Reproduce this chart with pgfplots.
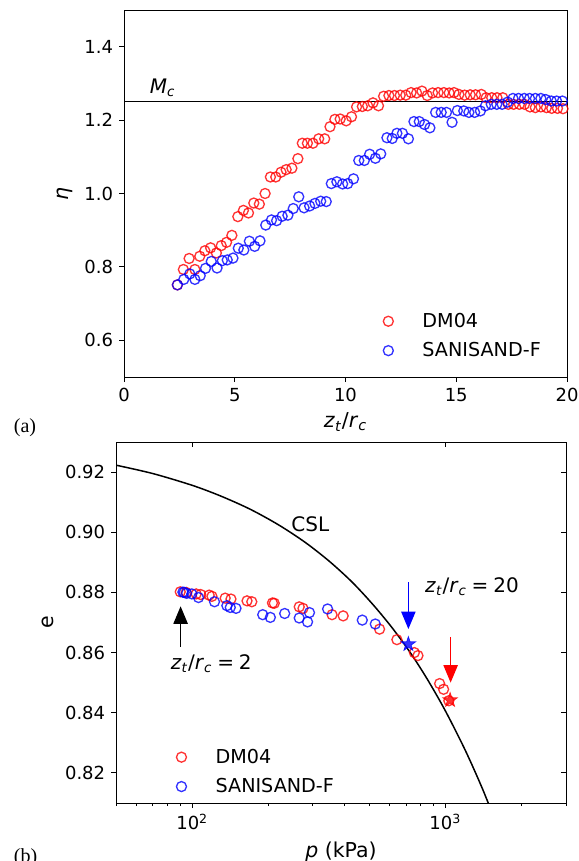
\documentclass[border=0pt]{standalone}
\usepackage{fontspec}
\setmainfont{DejaVu Sans}
\newfontfamily\serifpanel{Liberation Serif}
\usepackage{pgfplots}
\pgfplotsset{compat=1.18}
\usetikzlibrary{arrows.meta}

\definecolor{dmred}{RGB}{255,0,0}
\definecolor{sfblue}{RGB}{0,0,255}

% filled five-pointed star, like the matplotlib '*' marker
\pgfdeclareplotmark{fstar}{%
  \pgfpathmoveto{\pgfpointpolar{90}{\pgfplotmarksize}}%
  \pgfpathlineto{\pgfpointpolar{126}{0.382\pgfplotmarksize}}%
  \pgfpathlineto{\pgfpointpolar{162}{\pgfplotmarksize}}%
  \pgfpathlineto{\pgfpointpolar{198}{0.382\pgfplotmarksize}}%
  \pgfpathlineto{\pgfpointpolar{234}{\pgfplotmarksize}}%
  \pgfpathlineto{\pgfpointpolar{270}{0.382\pgfplotmarksize}}%
  \pgfpathlineto{\pgfpointpolar{306}{\pgfplotmarksize}}%
  \pgfpathlineto{\pgfpointpolar{342}{0.382\pgfplotmarksize}}%
  \pgfpathlineto{\pgfpointpolar{18}{\pgfplotmarksize}}%
  \pgfpathlineto{\pgfpointpolar{54}{0.382\pgfplotmarksize}}%
  \pgfpathclose
  \pgfusepathqfillstroke
}

\tikzset{
  tip/.style={-{Triangle[width=8.5pt,length=10.5pt]}, line width=1.0pt},
  note/.style={font=\fontsize{12}{14}\selectfont},
}

\pgfplotsset{
  panel/.style={
    scale only axis,
    anchor=south west,
    axis line style={line width=0.6pt},
    tick style={black, line width=0.6pt},
    tick align=outside,
    major tick length=3pt,
    minor tick length=1.8pt,
    xtick pos=left, ytick pos=left,
    tick label style={font=\fontsize{10.8}{12}\selectfont},
    label style={font=\fontsize{12.3}{14}\selectfont},
    legend style={draw=none, fill=none, font=\fontsize{11.5}{13}\selectfont, row sep=3.6pt},
    legend cell align=left,
    legend image code/.code={\draw[##1, only marks] plot coordinates {(0.3cm,0cm)}; \path[draw=none] (0cm,0cm) (0.95cm,0cm);},
  },
  dm/.style={only marks, mark=o, mark size=3pt, line width=0.8pt, dmred, opacity=0.8},
  sf/.style={only marks, mark=o, mark size=3pt, line width=0.8pt, sfblue, opacity=0.8},
}
\newcommand{\ztrc}{\textit{z}\textsubscript{\textit{t}}/\textit{r}\textsubscript{\textit{c}}}

\begin{document}
\begin{tikzpicture}
\path[use as bounding box] (0pt,0pt) rectangle (347.4pt,-516.6pt);

% (a) stress ratio against depth
\begin{axis}[panel,
  at={(74.4pt,-226.2pt)}, width=265.8pt, height=220.2pt,
  xmin=0, xmax=20, ymin=0.5, ymax=1.5,
  xtick={0,5,10,15,20}, xticklabels={0,5,10,15,20},
  ytick={0.6,0.8,1.0,1.2,1.4}, yticklabels={0.6,0.8,1.0,1.2,1.4},
  xlabel={\ztrc},
  ylabel={\textit{η}},
  legend style={at={(0.5525,0.03)}, anchor=south west},
]
\addplot[dm] coordinates {
(2.41,0.751)(2.68,0.793)(2.94,0.823)(3.20,0.793)(3.42,0.829)(3.65,0.844)(3.91,0.852)
(4.17,0.838)(4.39,0.858)(4.63,0.867)(4.87,0.886)(5.14,0.937)(5.39,0.954)(5.62,0.947)
(5.86,0.974)(6.11,0.971)(6.37,1.000)(6.61,1.045)(6.85,1.045)(7.09,1.058)(7.32,1.065)
(7.58,1.069)(7.85,1.095)(8.05,1.137)(8.28,1.137)(8.53,1.137)(8.79,1.149)(9.06,1.149)
(9.30,1.182)(9.52,1.202)(9.76,1.203)(10.03,1.198)(10.27,1.209)(10.50,1.236)(10.76,1.237)
(11.00,1.239)(11.24,1.247)(11.49,1.239)(11.72,1.265)(11.96,1.267)(12.21,1.267)(12.47,1.268)
(12.72,1.268)(12.96,1.275)(13.21,1.274)(13.45,1.279)(13.69,1.267)(13.93,1.274)(14.18,1.275)
(14.44,1.275)(14.68,1.274)(14.90,1.275)(15.12,1.270)(15.38,1.268)(15.63,1.269)(15.87,1.269)
(16.13,1.270)(16.35,1.261)(16.60,1.261)(16.84,1.261)(17.10,1.261)(17.35,1.243)(17.59,1.243)
(17.85,1.243)(18.08,1.243)(18.33,1.236)(18.57,1.234)(18.82,1.236)(19.07,1.234)(19.31,1.232)
(19.57,1.232)(19.82,1.231)
};
\addlegendentry{DM04}
\addplot[sf] coordinates {
(2.41,0.751)(2.70,0.766)(2.97,0.781)(3.20,0.766)(3.44,0.776)(3.68,0.796)(3.94,0.815)
(4.20,0.797)(4.44,0.817)(4.66,0.819)(4.92,0.824)(5.16,0.851)(5.41,0.846)(5.66,0.870)
(5.90,0.856)(6.14,0.871)(6.40,0.914)(6.66,0.928)(6.89,0.926)(7.14,0.938)(7.40,0.941)
(7.64,0.959)(7.89,0.991)(8.13,0.961)(8.38,0.966)(8.62,0.973)(8.88,0.979)(9.13,0.978)
(9.36,1.027)(9.61,1.032)(9.87,1.026)(10.10,1.027)(10.36,1.040)(10.60,1.090)(10.85,1.090)
(11.09,1.107)(11.35,1.096)(11.59,1.108)(11.87,1.152)(12.11,1.150)(12.32,1.164)(12.57,1.164)
(12.84,1.149)(13.09,1.196)(13.33,1.196)(13.57,1.188)(13.81,1.179)(14.07,1.221)(14.32,1.221)
(14.56,1.221)(14.81,1.194)(15.05,1.226)(15.34,1.225)(15.57,1.221)(15.83,1.221)(16.09,1.225)
(16.32,1.239)(16.58,1.243)(16.83,1.243)(17.07,1.243)(17.32,1.249)(17.56,1.259)(17.81,1.259)
(18.07,1.259)(18.31,1.259)(18.57,1.259)(18.82,1.259)(19.04,1.256)(19.29,1.252)(19.53,1.252)
(19.79,1.252)
};
\addlegendentry{SANISAND-F}
\draw[black, line width=0.8pt] (axis cs:0,1.25) -- (axis cs:20,1.25);
\node[note, anchor=west] at (axis cs:0.9,1.287) {\textit{M}\textsubscript{\textit{c}}};
\end{axis}

% (b) e - log p path
\begin{axis}[panel, xmode=log,
  at={(69.6pt,-481.8pt)}, width=270pt, height=216.6pt,
  xmin=50, xmax=3000, ymin=0.81, ymax=0.93,
  xtick={100,1000}, xticklabels={10\textsuperscript{2},10\textsuperscript{3}},
  minor xtick={50,60,70,80,90,200,300,400,500,600,700,800,900,2000,3000},
  ytick={0.82,0.84,0.86,0.88,0.90,0.92}, yticklabels={0.82,0.84,0.86,0.88,0.90,0.92},
  xlabel={\textit{p} (kPa)},
  ylabel={e},
  legend style={at={(0.102,0.003)}, anchor=south west},
]
\addplot[dm] coordinates {
(89.7,0.8802)(94.7,0.8800)(103.7,0.8795)(108,0.8793)(116.7,0.8791)(119.7,0.8787)
(135,0.8781)(142.3,0.8778)(164.7,0.8772)(172,0.8769)(207.6,0.8765)(211,0.8764)
(264.8,0.8752)(274,0.8747)(357,0.8726)(395,0.8722)(550,0.8678)(644,0.8643)
(755,0.8600)(780,0.8590)(950,0.8497)(985,0.8478)(1033,0.8440)
};
\addlegendentry{DM04}
\addplot[sf] coordinates {
(91.9,0.8801)(93,0.8800)(95,0.8797)(99.7,0.8795)(105.9,0.8783)(122.5,0.8769)
(137.1,0.8756)(141.4,0.8750)(149,0.8747)(190,0.8726)(203.6,0.8717)(232,0.8730)
(264.8,0.8715)(285.7,0.8702)(290.7,0.8733)(342.8,0.8745)(470,0.8708)(529,0.8695)
};
\addlegendentry{SANISAND-F}
\addplot[only marks, mark=fstar, mark size=4.6pt, dmred, fill=dmred, opacity=0.8, line width=0.4pt, forget plot]
  coordinates {(1045,0.8442)};
\addplot[only marks, mark=fstar, mark size=4.6pt, sfblue, fill=sfblue, opacity=0.8, line width=0.4pt, forget plot]
  coordinates {(715,0.8628)};
% critical state line
\addplot[black, line width=0.9pt, smooth, forget plot] coordinates {
(50,0.9223)(70,0.9195)(100,0.9156)(130,0.9120)(170,0.9076)(220,0.9024)(280,0.8966)
(350,0.8902)(430,0.8833)(520,0.8758)(620,0.8680)(730,0.8598)(850,0.8511)(1000,0.8407)
(1200,0.8275)(1400,0.8149)(1600,0.8027)
};
% inward ticks on the top and right edges
\draw[line width=0.6pt] (axis cs:100,0.93) -- ++(0pt,-3pt);
\draw[line width=0.6pt] (axis cs:1000,0.93) -- ++(0pt,-3pt);
\draw[line width=0.6pt] (axis cs:3000,0.82) -- ++(-3pt,0pt);
\draw[line width=0.6pt] (axis cs:3000,0.84) -- ++(-3pt,0pt);
\draw[line width=0.6pt] (axis cs:3000,0.86) -- ++(-3pt,0pt);
\draw[line width=0.6pt] (axis cs:3000,0.88) -- ++(-3pt,0pt);
\draw[line width=0.6pt] (axis cs:3000,0.90) -- ++(-3pt,0pt);
\draw[line width=0.6pt] (axis cs:3000,0.92) -- ++(-3pt,0pt);
\draw[tip, sfblue] (axis cs:715,0.8833) -- (axis cs:715,0.8678);
\draw[tip, dmred] (axis cs:1050,0.8652) -- (axis cs:1050,0.8500);
\draw[tip, black] (axis cs:90,0.8620) -- (axis cs:90,0.8754);
\node[note] at (axis cs:293,0.9028) {CSL};
\node[note, anchor=west] at (axis cs:790,0.882) {\ztrc\hspace{0.25em}=\hspace{0.25em}20};
\node[note, anchor=west] at (axis cs:78,0.8563) {\ztrc\hspace{0.25em}=\hspace{0.25em}2};
\end{axis}

\node[anchor=west, font=\serifpanel\fontsize{12}{14}\selectfont] at (4.8pt,-256.8pt) {(a)};
\node[anchor=west, font=\serifpanel\fontsize{12}{14}\selectfont] at (4.8pt,-514.8pt) {(b)};
\end{tikzpicture}
\end{document}
